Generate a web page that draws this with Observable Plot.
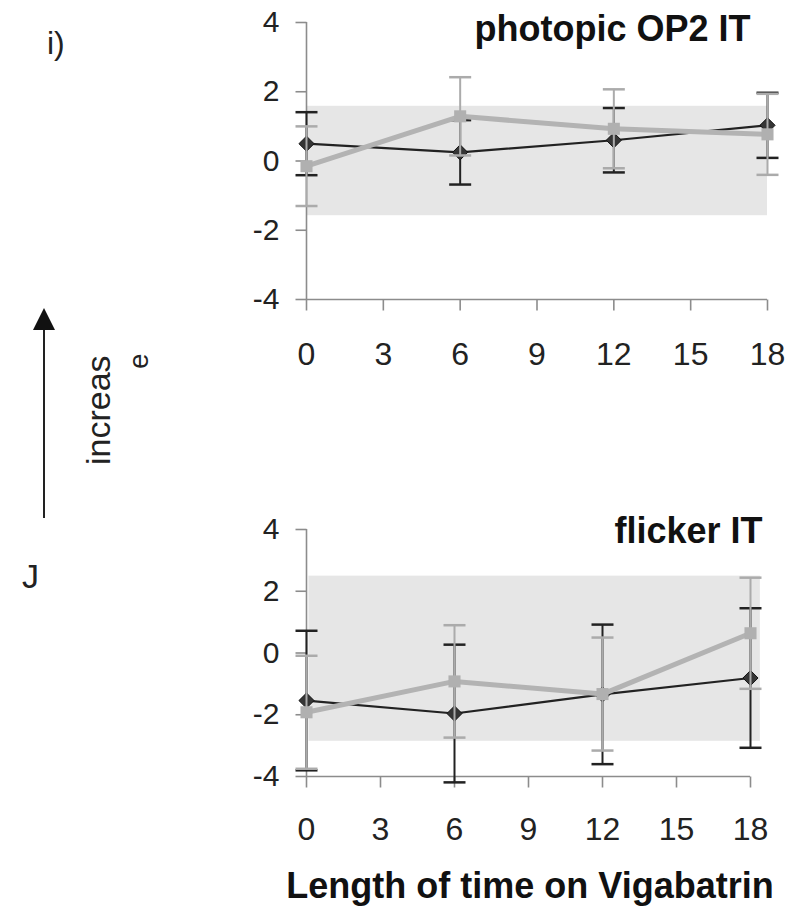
<!DOCTYPE html>
<html>
<head>
<meta charset="utf-8">
<script src="https://cdn.jsdelivr.net/npm/d3@7"></script>
<script src="https://cdn.jsdelivr.net/npm/@observablehq/plot@0.6"></script>
<style>
  html, body { margin: 0; padding: 0; background: #fff; }
  #wrap { position: relative; width: 800px; height: 916px; background: #fff; overflow: hidden;
          font-family: "Liberation Sans", Arial, Helvetica, sans-serif; }
  #top, #bottom { position: absolute; left: 0; width: 800px; }
  #overlay { position: absolute; left: 0; top: 0; pointer-events: none; }
</style>
</head>
<body>
<div id="wrap">
  <div id="top" style="top:0"></div>
  <div id="bottom" style="top:480px"></div>
  <svg id="overlay" width="800" height="916" font-family="Liberation Sans, Arial, Helvetica, sans-serif" fill="#222">
    <text x="47" y="54" font-size="32">i)</text>
    <text x="22" y="588" font-size="34">J</text>
    <line x1="44" y1="328" x2="44" y2="518" stroke="#222" stroke-width="2"></line>
    <polygon points="44,308 33,330 55,330" fill="#111"></polygon>
    <text transform="translate(110,465) rotate(-90)" font-size="34">increas</text>
    <text transform="translate(148,369) rotate(-90)" font-size="28">e</text>
    <text x="530" y="898" font-size="36" font-weight="bold" text-anchor="middle" fill="#111">Length of time on Vigabatrin</text>
  </svg>
</div>
<script>
// ---- data ----
const months = [0, 6, 12, 18];
const xTicks = [0, 3, 6, 9, 12, 15, 18];
const yTicks = [-4, -2, 0, 2, 4];

// panel 1: photopic OP2 IT
const photopicBlack    = [0.50, 0.25, 0.60, 1.03];
const photopicBlackErr = [0.91, 0.93, 0.93, 0.94];
const photopicGrey     = [-0.15, 1.29, 0.93, 0.77];
const photopicGreyErr  = [1.15, 1.13, 1.14, 1.17];
const photopicBand     = [-1.58, 1.58];
const photopicBandX    = [0, 18];

// panel 2: flicker IT
const flickerBlack    = [-1.54, -1.96, -1.34, -0.81];
const flickerBlackErr = [2.26, 2.23, 2.26, 2.26];
const flickerGrey     = [-1.92, -0.92, -1.33, 0.64];
const flickerGreyErr  = [1.83, 1.82, 1.83, 1.80];
const flickerBand     = [-2.86, 2.49];
const flickerBandX    = [0.1, 18.4];

const capSymbol = { draw(ctx, size) { const w = Math.sqrt(size / Math.PI); ctx.moveTo(-w, 0); ctx.lineTo(w, 0); } };
const tickLeft  = { draw(ctx, size) { const w = Math.sqrt(size / Math.PI); ctx.moveTo(-w, 0); ctx.lineTo(0, 0); } };
const tickDown  = { draw(ctx, size) { const w = Math.sqrt(size / Math.PI); ctx.moveTo(0, 0); ctx.lineTo(0, w); } };

const FONT = "'Liberation Sans', Arial, Helvetica, sans-serif";
const fmt = d => String(d);

function panel(o) {
  const rows = months.map((m, i) => ({
    m,
    b: o.black[i], bLo: o.black[i] - o.blackErr[i], bHi: o.black[i] + o.blackErr[i],
    g: o.grey[i],  gLo: o.grey[i] - o.greyErr[i],   gHi: o.grey[i] + o.greyErr[i]
  }));
  const bandRow = [{x1: o.bandX[0], x2: o.bandX[1], y1: o.band[0], y2: o.band[1]}];
  const yRows = yTicks.map(v => ({x: 0, y: v, label: fmt(v)}));
  const axisStroke = "#8c8c8c";
  const blackC = "#222", greyC = "#ababab";
  return Plot.plot({
    width: 800, height: o.height,
    marginLeft: 306, marginRight: o.marginRight,
    marginTop: o.marginTop, marginBottom: o.marginBottom,
    x: {domain: [0, 18], axis: null},
    y: {domain: [-4, 4], axis: null},
    style: {fontFamily: FONT, color: "#222", background: "transparent"},
    marks: [
      Plot.rect(bandRow, {x1: "x1", x2: "x2", y1: "y1", y2: "y2", fill: "#e6e6e6"}),
      // axes
      Plot.ruleX([0], {stroke: axisStroke, strokeWidth: 1.6}),
      Plot.ruleY([-4], {stroke: axisStroke, strokeWidth: 1.6}),
      Plot.dot(yRows, {x: "x", y: "y", symbol: tickLeft, r: 11, fill: "none", stroke: axisStroke, strokeWidth: 1.6}),
      Plot.text(yRows, {x: "x", y: "y", text: "label", dx: -27, textAnchor: "end", fontSize: 30, fill: "#222"}),
      Plot.dot(xTicks, {x: d => d, frameAnchor: "bottom", symbol: tickDown, r: 11, fill: "none", stroke: axisStroke, strokeWidth: 1.6}),
      Plot.text(xTicks, {x: d => d, frameAnchor: "bottom", text: fmt, dy: 11 + o.tickPadX, textAnchor: "middle", lineAnchor: "top", fontSize: 32, fill: "#222"}),
      // black series
      Plot.ruleX(rows, {x: "m", y1: "bLo", y2: "bHi", stroke: blackC, strokeWidth: 2}),
      Plot.dot(rows, {x: "m", y: "bLo", symbol: capSymbol, r: 11, fill: "none", stroke: blackC, strokeWidth: 2.5}),
      Plot.dot(rows, {x: "m", y: "bHi", symbol: capSymbol, r: 11, fill: "none", stroke: blackC, strokeWidth: 2.5}),
      Plot.line(rows, {x: "m", y: "b", stroke: blackC, strokeWidth: 2.2}),
      Plot.dot(rows, {x: "m", y: "b", symbol: "diamond2", r: 6.8, fill: "#353535", stroke: "#111", strokeWidth: 1}),
      // grey series
      Plot.ruleX(rows, {x: "m", y1: "gLo", y2: "gHi", stroke: greyC, strokeWidth: 2}),
      Plot.dot(rows, {x: "m", y: "gLo", symbol: capSymbol, r: 11, fill: "none", stroke: greyC, strokeWidth: 2.5}),
      Plot.dot(rows, {x: "m", y: "gHi", symbol: capSymbol, r: 11, fill: "none", stroke: greyC, strokeWidth: 2.5}),
      Plot.line(rows, {x: "m", y: "g", stroke: "#b3b3b3", strokeWidth: 5}),
      Plot.dot(rows, {x: "m", y: "g", symbol: "square", r: 6.8, fill: "#b0b0b0", stroke: "none"}),
      // panel title
      Plot.text([o.title], {frameAnchor: "top-right", textAnchor: "end", lineAnchor: "top",
                            dx: o.titleDx, dy: o.titleDy, fontSize: 36, fontWeight: "bold", fill: "#111"})
    ]
  });
}

document.getElementById("top").append(panel({
  height: 380, marginTop: 22, marginBottom: 81, marginRight: 33, tickPadX: 32,
  title: "photopic OP2 IT", titleDx: -17, titleDy: -7,
  black: photopicBlack, blackErr: photopicBlackErr,
  grey: photopicGrey, greyErr: photopicGreyErr,
  band: photopicBand, bandX: photopicBandX
}));

document.getElementById("bottom").append(panel({
  height: 380, marginTop: 49, marginBottom: 84, marginRight: 50, tickPadX: 30,
  title: "flicker IT", titleDx: 12, titleDy: -12,
  black: flickerBlack, blackErr: flickerBlackErr,
  grey: flickerGrey, greyErr: flickerGreyErr,
  band: flickerBand, bandX: flickerBandX
}));
</script>
</body>
</html>
